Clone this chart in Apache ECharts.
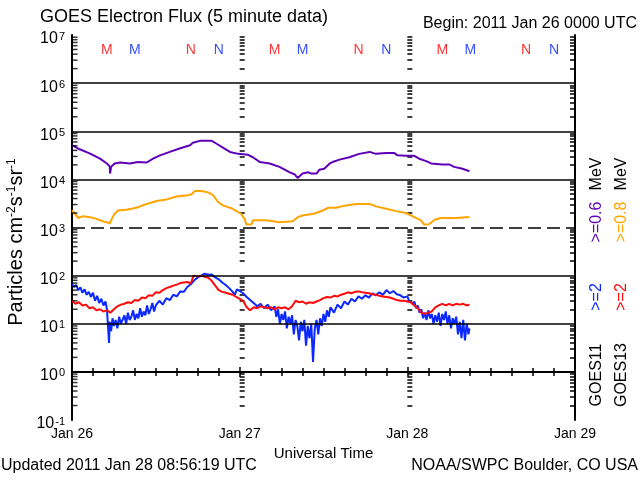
<!DOCTYPE html>
<html><head><meta charset="utf-8">
<script src="https://cdn.jsdelivr.net/npm/echarts@6/dist/echarts.min.js"></script>
<style>html,body{margin:0;padding:0;background:#fff}#c{width:640px;height:480px}</style>
</head><body><div id="c"></div><script>
// ---- data (hours since 2011 Jan 26 00:00 UTC, particles cm^-2 s^-1 sr^-1) ----
const dayLabels = ['Jan 26', 'Jan 27', 'Jan 28', 'Jan 29'];
const decadeSolid = [1, 10, 100, 1e4, 1e5, 1e6];
const decadeDashed = [1e3];

const g11_06MeV = [[0,51300],[1.1,42200],[2.6,34300],[4,26900],[5,21400],[5.4,18600],[5.45,13200],[5.55,12600],[5.6,18200],[6.1,21400],[6.9,22400],[8.3,21400],[9.4,22900],[10.7,22400],[11.6,26900],[12.6,31600],[14,37200],[15.4,43700],[16.9,51300],[17.3,57500],[18.3,63100],[20,63100],[20.7,55000],[21.6,45700],[22.6,37200],[23.8,33900],[25.2,32400],[25.9,28800],[26.9,22900],[28.3,21400],[29.7,18200],[31.1,14100],[31.9,12600],[32.3,10700],[33,13200],[33.8,14100],[34.2,13200],[35,13200],[35.4,15800],[36.1,16600],[36.9,21400],[37.3,22900],[38.3,25700],[39.7,28800],[41.1,33900],[42.6,37200],[43.5,33900],[45,35500],[46.1,35500],[46.6,31600],[47.8,30900],[49,30900],[49.7,26900],[50.7,24000],[51.4,21400],[53,20400],[54,20400],[54.7,18200],[55.9,16600],[56.9,14800]];

const g13_08MeV = [[0,2260],[0.4,1930],[0.9,1580],[1.6,1720],[2.6,1640],[3.5,1510],[4.5,1330],[5,1290],[5.4,1200],[5.7,1510],[6.1,1930],[6.6,2260],[7.8,2340],[9.2,2570],[10.7,3090],[12.1,3550],[13.5,3800],[14.95,4420],[16.6,4680],[17.1,4900],[17.6,5750],[18.5,5750],[19.5,5370],[20.2,4680],[20.9,3390],[21.6,2880],[23,2450],[24.2,1930],[24.7,1510],[24.95,1150],[25.7,1170],[25.9,1410],[27.8,1410],[29.7,1290],[31.6,1350],[32.3,1640],[33,1780],[34.6,1930],[35.9,2260],[36.7,2570],[37.8,2570],[39.2,2880],[40.7,3090],[42.6,3090],[43.5,2750],[45,2450],[46.4,2190],[47.8,2000],[49,1640],[49.96,1410],[50.4,1150],[51.1,1170],[51.9,1450],[52.8,1570],[55,1570],[56.9,1660]];

const g11_2MeV = [[0,68],[0.3,58],[0.6,64],[0.9,50],[1.2,57],[1.5,44],[1.8,52],[2.1,40],[2.4,46],[2.7,36],[3,44],[3.3,30],[3.6,38],[3.9,27],[4.2,33],[4.5,24],[4.8,29],[5,20],
[5.15,9],[5.3,4],[5.4,11],[5.6,7],[5.8,13],[6,9],[6.25,12],[6.5,8],[6.75,14],[7,10],[7.25,11],[7.5,15],[7.75,10],[8,17],[8.25,12],[8.5,14],[8.75,19],[9,12],[9.25,16],[9.5,13],[9.75,21],[10,14],[10.25,18],[10.5,15],[10.75,24],[11,16],[11.25,20],[11.5,27],[11.75,18],[12,24],
[12.5,30],[13,25],[13.5,34],[14,31],[14.5,40],[15,37],[15.5,47],[16,46],[16.5,58],[17,66],[17.5,80],[18,92],[18.5,100],[19,110],[19.5,104],[20,106],[20.5,92],[21,84],[21.5,72],[22,64],[22.5,55],[23,46],[23.3,40],[23.6,52],[24,48],[24.5,43],[25,36],[25.5,31],[26,27],[26.5,23],[27,26],[27.5,21],[28,25],[28.5,19],[29,23],
[29.25,14],[29.5,20],[29.75,10],[30,16],[30.25,12],[30.5,18],[30.75,8],[31,14],[31.25,10],[31.5,15],[31.75,6],[32,12],[32.25,9],[32.5,4.5],[32.75,11],[33,7],[33.25,12],[33.5,3.5],[33.75,9],[34,5],[34.25,10],[34.5,1.6],[34.75,8],[35,12],[35.25,6],[35.5,13],[35.75,9],[36,16],[36.25,11],[36.5,19],[36.75,14],[37,22],
[37.5,17],[38,25],[38.5,21],[39,29],[39.5,25],[40,33],[40.5,29],[41,37],[41.5,33],[42,39],[42.5,35],[43,43],[43.5,39],[44,45],[44.5,40],[45,50],[45.5,43],[46,48],[46.5,41],[47,39],[47.5,35],[48,37],
[48.25,30],[48.5,33],[48.75,26],[49,29],[49.25,21],[49.5,24],[49.75,17],[50,20],[50.25,13],[50.5,17],[50.75,12],[51,19],[51.25,13],[51.5,16],[51.75,10],[52,15],[52.25,11],[52.5,17],[52.75,9],[53,16],[53.25,12],[53.5,18],[53.75,10],[54,15],[54.25,8],[54.5,13],[54.75,10],[55,14],[55.25,6],[55.5,11],[55.75,5],[56,12],[56.25,4.5],[56.5,10],[56.75,6],[56.9,8]];

const g13_2MeV = [[0,30],[0.5,26],[1,28],[1.5,24],[2,25],[2.5,21],[3,22],[3.5,19],[4,20],[4.5,18],[5,19],[5.5,17],[6,20],[6.5,23],[7,25],[7.5,26],[8,28],[8.5,27],[9,31],[9.5,30],[10,35],[10.5,34],[11,39],[11.5,38],[12,45],[12.5,44],[13,50],[13.5,55],[14,58],[14.5,62],[15,65],[15.5,70],[16,72],[16.5,74],[17,68],[17.4,100],[18,96],[18.5,100],[19,95],[19.5,90],[20,78],[20.5,62],[21,50],[21.5,46],[22,44],[22.5,42],[23,40],[23.5,36],[24,33],[24.5,30],[25,22],[25.5,19],[26,22],[26.5,21],[27,23],[27.5,22],[28,21],[28.5,22],[29,20],[29.5,22],[30,21],[30.5,22],[31,20],[31.5,23],[32,30],[32.5,28],[33,29],[33.5,26],[34,28],[34.5,27],[35,29],[35.5,31],[36,34],[36.5,36],[37,35],[37.5,38],[38,37],[38.5,40],[39,42],[39.5,45],[40,43],[40.5,46],[41,47],[41.5,45],[42,44],[42.5,43],[43,41],[43.5,40],[44,38],[44.5,37],[45,36],[45.5,35],[46,33],[46.5,31],[47,30],[47.5,30],[48,29],[48.5,28],[49,24],[49.5,21],[50,17],[50.5,16],[51,17],[51.5,18],[52,22],[52.5,24],[53,26],[53.5,24],[54,26],[54.5,24],[55,26],[55.5,25],[56,26],[56.5,24],[56.9,25]];

// local midnight (M) / noon (N) markers
const markerLevel = 4.9e6;
const g13Midnight = [5, 29, 53];
const g11Midnight = [9, 33, 57];
const g13Noon = [17, 41, 65];
const g11Noon = [21, 45, 69];

// ---- chart ----
const FONT = 'Liberation Sans';
const gridL = 72, gridR = 65, gridT = 35, gridB = 60;
const plotW = 640 - gridL - gridR;
const minorLog = [];
const minorVal = [];
for (let d = -1; d < 7; d++) for (let k = 2; k <= 9; k++) { minorLog.push(d + Math.log10(k)); minorVal.push(k * Math.pow(10, d)); }

function decorAxis(extra, inside) {
  return Object.assign({
    type: 'value', min: -1, max: 7, position: 'left',
    axisLine: { show: false, onZero: false },
    axisLabel: { show: false },
    splitLine: { show: false },
    axisTick: { show: true, inside: inside, length: 5, customValues: minorLog, lineStyle: { color: '#000', width: 1.5 } }
  }, extra);
}

function markerSeries(hours, txt, color) {
  return {
    type: 'scatter', xAxisIndex: 0, yAxisIndex: 0, symbolSize: 0, silent: true,
    data: hours.map(h => [h, markerLevel]),
    label: { show: true, position: 'inside', formatter: txt, color: color, fontFamily: FONT, fontSize: 14 }
  };
}

function vtext(x, y, txt, color) {
  return { type: 'text', x: x, y: y, rotation: Math.PI / 2,
    style: { text: txt, font: '16px ' + FONT, fill: color, textAlign: 'center', textVerticalAlign: 'middle' } };
}

const chart = echarts.init(document.getElementById('c'), null, { renderer: 'canvas' });
const black = { color: '#000', width: 2 };
const option = {
  animation: false,
  backgroundColor: '#fff',
  grid: { left: gridL, right: gridR, top: gridT, bottom: gridB, containLabel: false, outerBoundsMode: 'none' },
  xAxis: [
    {
      type: 'value', min: 0, max: 72, interval: 24, position: 'bottom',
      axisLine: { show: true, lineStyle: black },
      axisTick: { show: true, inside: true, length: 5, lineStyle: { color: '#000', width: 1.5 } },
      minorTick: { show: true, splitNumber: 8, length: 4, lineStyle: { color: '#000', width: 1.5 } },
      splitLine: { show: false },
      axisLabel: { color: '#000', fontFamily: FONT, fontSize: 14, margin: 7, formatter: v => dayLabels[Math.round(v / 24)] },
      name: 'Universal Time', nameLocation: 'middle', nameGap: 21,
      nameTextStyle: { color: '#000', fontFamily: FONT, fontSize: 15 }
    },
    {
      type: 'value', min: 0, max: 72, interval: 24, position: 'top',
      axisLine: { show: true, lineStyle: black },
      axisTick: { show: true, inside: true, length: 5, lineStyle: { color: '#000', width: 1.5 } },
      minorTick: { show: true, splitNumber: 8, length: 4, lineStyle: { color: '#000', width: 1.5 } },
      splitLine: { show: false },
      axisLabel: { show: false }
    }
  ],
  yAxis: [
    {
      type: 'log', logBase: 10, min: 0.1, max: 1e7, position: 'left',
      axisLine: { show: true, onZero: false, lineStyle: black },
      axisTick: { show: false },
      splitLine: { show: false },
      axisLabel: {
        margin: 7, color: '#000',
        formatter: v => '{b|10}{s|' + Math.round(Math.log10(v)) + '}',
        rich: {
          b: { fontFamily: FONT, fontSize: 16, lineHeight: 16, padding: [8, 0, 0, 0], color: '#000' },
          s: { fontFamily: FONT, fontSize: 11, lineHeight: 11, verticalAlign: 'top', padding: [4, 0, 0, 1], color: '#000' }
        }
      }
    },
    decorAxis({ position: 'right', axisLine: { show: true, onZero: false, lineStyle: black } }, true),
    decorAxis({ offset: -plotW * 24 / 72 }, true),
    decorAxis({ offset: -plotW * 48 / 72 }, true)
  ],
  series: [
    {
      type: 'line', xAxisIndex: 0, yAxisIndex: 0, data: [], z: 1, silent: true,
      markLine: {
        symbol: ['none', 'none'], silent: true, label: { show: false },
        data: decadeSolid.map(v => ({ yAxis: v, lineStyle: { color: '#000', width: 1.6, type: 'solid' } }))
          .concat(decadeDashed.map(v => ({ yAxis: v, lineStyle: { color: '#000', width: 1.6, type: [13, 6] } })))
      }
    },
    {
      // minor tick comb on the left frame (log positions 2..9 of each decade)
      type: 'scatter', xAxisIndex: 0, yAxisIndex: 0, silent: true, clip: false, z: 5,
      symbol: 'rect', symbolSize: [5, 1.5], symbolOffset: [3, 0],
      itemStyle: { color: '#000' },
      data: minorVal.map(v => [0, v])
    },
    { name: 'GOES11 >=0.6 MeV', type: 'line', data: g11_06MeV, showSymbol: false, z: 3, lineStyle: { color: '#5f00b8', width: 2 } },
    { name: 'GOES13 >=0.8 MeV', type: 'line', data: g13_08MeV, showSymbol: false, z: 3, lineStyle: { color: '#ffa500', width: 2 } },
    { name: 'GOES11 >=2 MeV', type: 'line', data: g11_2MeV, showSymbol: false, z: 3, lineStyle: { color: '#0a28ff', width: 2 } },
    { name: 'GOES13 >=2 MeV', type: 'line', data: g13_2MeV, showSymbol: false, z: 4, lineStyle: { color: '#ff0a0a', width: 2 } },
    markerSeries(g13Midnight, 'M', '#ff0000'),
    markerSeries(g11Midnight, 'M', '#0022ff'),
    markerSeries(g13Noon, 'N', '#ff0000'),
    markerSeries(g11Noon, 'N', '#0022ff')
  ],
  graphic: [
    { type: 'text', left: 40, top: 8, style: { text: 'GOES Electron Flux (5 minute data)', font: '18px ' + FONT, fill: '#000' } },
    { type: 'text', right: 3, top: 16, style: { text: 'Begin: 2011 Jan 26 0000 UTC', font: '16px ' + FONT, fill: '#000' } },
    { type: 'text', left: 1, top: 458, style: { text: 'Updated 2011 Jan 28 08:56:19 UTC', font: '16px ' + FONT, fill: '#000' } },
    { type: 'text', right: 2, top: 458, style: { text: 'NOAA/SWPC Boulder, CO USA', font: '16px ' + FONT, fill: '#000' } },
    {
      type: 'text', x: 16, y: 242, rotation: Math.PI / 2,
      style: {
        text: 'Particles cm{s|-2}s{s|-1}sr{s|-1}', fill: '#000', font: '20px ' + FONT,
        textAlign: 'center', textVerticalAlign: 'middle',
        rich: { s: { fontSize: 12, fontFamily: FONT, lineHeight: 12, verticalAlign: 'top', fill: '#000' } }
      }
    },
    vtext(597, 375, 'GOES11', '#000'),
    vtext(597, 297, '>=2', '#0a28ff'),
    vtext(597, 222, '>=0.6', '#5f00b8'),
    vtext(597, 174, 'MeV', '#000'),
    vtext(622, 375, 'GOES13', '#000'),
    vtext(622, 297, '>=2', '#ff0a0a'),
    vtext(622, 222, '>=0.8', '#ffa500'),
    vtext(622, 174, 'MeV', '#000')
  ]
};
chart.setOption(option);
</script></body></html>
